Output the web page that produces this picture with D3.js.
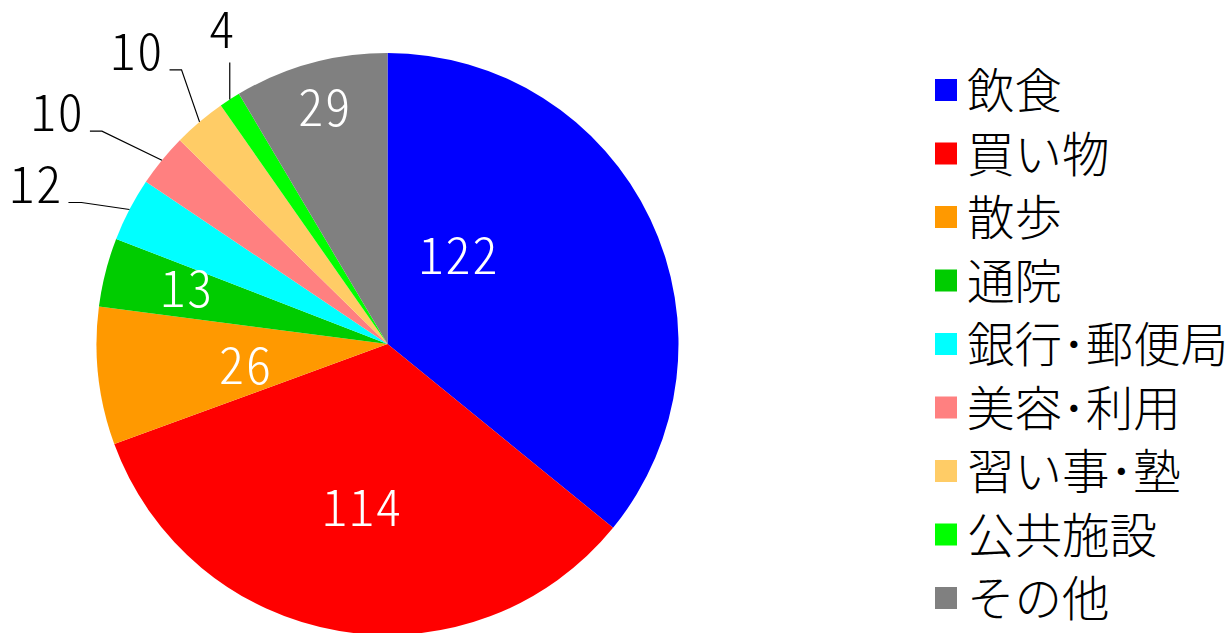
<!DOCTYPE html>
<html><head><meta charset="utf-8">
<script src="https://cdn.jsdelivr.net/npm/d3@7"></script>
<style>html,body{margin:0;padding:0;background:#fff;overflow:hidden}
.num{font-feature-settings:"hwid" 1;}</style>
</head><body>
<svg id="chart" width="1229" height="633"></svg>
<script>
const categories = ["飲食","買い物","散歩","通院","銀行･郵便局","美容･利用","習い事･塾","公共施設","その他"];
const values = [122,114,26,13,12,10,10,4,29];
const colors = ["#0000FF","#FF0000","#FF9900","#00CC00","#00FFFF","#FF8080","#FFCC66","#00FF00","#808080"];

// label placement (layout config)
const inside = [ {rf:0.39,da:-26.2}, {rf:0.57,da:-0.5}, {rf:0.495,da:-2}, {rf:0.718,da:1.2}, null,null,null,null, {rf:0.842,da:0.4} ];
const outside = [ null,null,null,null,
  {ex:-48,ey:-7,h:-13,mode:"left"},
  {ex:-60,ey:-29,h:-12,mode:"left"},
  {ex:-18,ey:-52,h:-12,mode:"left"},
  {ex:0,ey:-37,h:0,mode:"up"}, null ];

const W=1229,H=633, cx=387.5, cy=344, R=291;
const numFont = '"Noto Sans CJK JP",sans-serif';
const txtFont = '"Noto Sans CJK JP",sans-serif';
const svg = d3.select("#chart");
const g = svg.append("g").attr("transform",`translate(${cx},${cy})`);
const data = categories.map((c,i)=>({cat:c,value:values[i],color:colors[i],i}));
const pie = d3.pie().value(d=>d.value).sort(null);
const arcs = pie(data);
const arc = d3.arc().innerRadius(0).outerRadius(R);
g.selectAll("path").data(arcs).join("path").attr("d",arc).attr("fill",d=>d.data.color);

const numSize = 51, ls = 1.5;
function num(x,y,anchor,fill,t){
  const shift = anchor==="end" ? ls : (anchor==="middle" ? ls/2 : 0);
  g.append("text").attr("class","num").attr("x",x+shift).attr("y",y)
    .attr("text-anchor",anchor).attr("font-family",numFont).attr("font-weight",300)
    .attr("letter-spacing",ls)
    .attr("font-size",numSize).attr("fill",fill).text(t);
}
arcs.forEach((a,i)=>{
  const mid=(a.startAngle+a.endAngle)/2;
  if(inside[i]){
    const p=inside[i]; const ang=mid+p.da*Math.PI/180; const r=p.rf*R;
    const x=r*Math.sin(ang), y=-r*Math.cos(ang);
    num(x, y+0.365*numSize, "middle", "#fff", a.data.value);
  } else if(outside[i]){
    const o=outside[i];
    const ex=R*Math.sin(mid), ey=-R*Math.cos(mid);
    const bx=ex+o.ex, by=ey+o.ey;
    const pts=[[ex,ey],[bx,by],[bx+o.h,by]];
    g.append("path").attr("d",d3.line()(pts)).attr("fill","none").attr("stroke","#000").attr("stroke-width",1.2);
    if(o.mode==="left") num(bx+o.h-7, by, "end", "#000", a.data.value);
    else num(bx-8, by-14, "middle", "#000", a.data.value);
  }
});

// legend
const legFs=47.5, legY0=90, legStep=63.5;
const leg = svg.append("g");
data.forEach((d,i)=>{
  const y=legY0+i*legStep;
  leg.append("rect").attr("x",935).attr("y",y-11).attr("width",22).attr("height",22).attr("fill",d.color);
  leg.append("text").attr("x",967).attr("y",y+0.38*legFs).attr("font-family",txtFont).attr("font-weight",300)
    .attr("font-size",legFs).attr("fill","#000").text(d.cat);
});
</script>
</body></html>
